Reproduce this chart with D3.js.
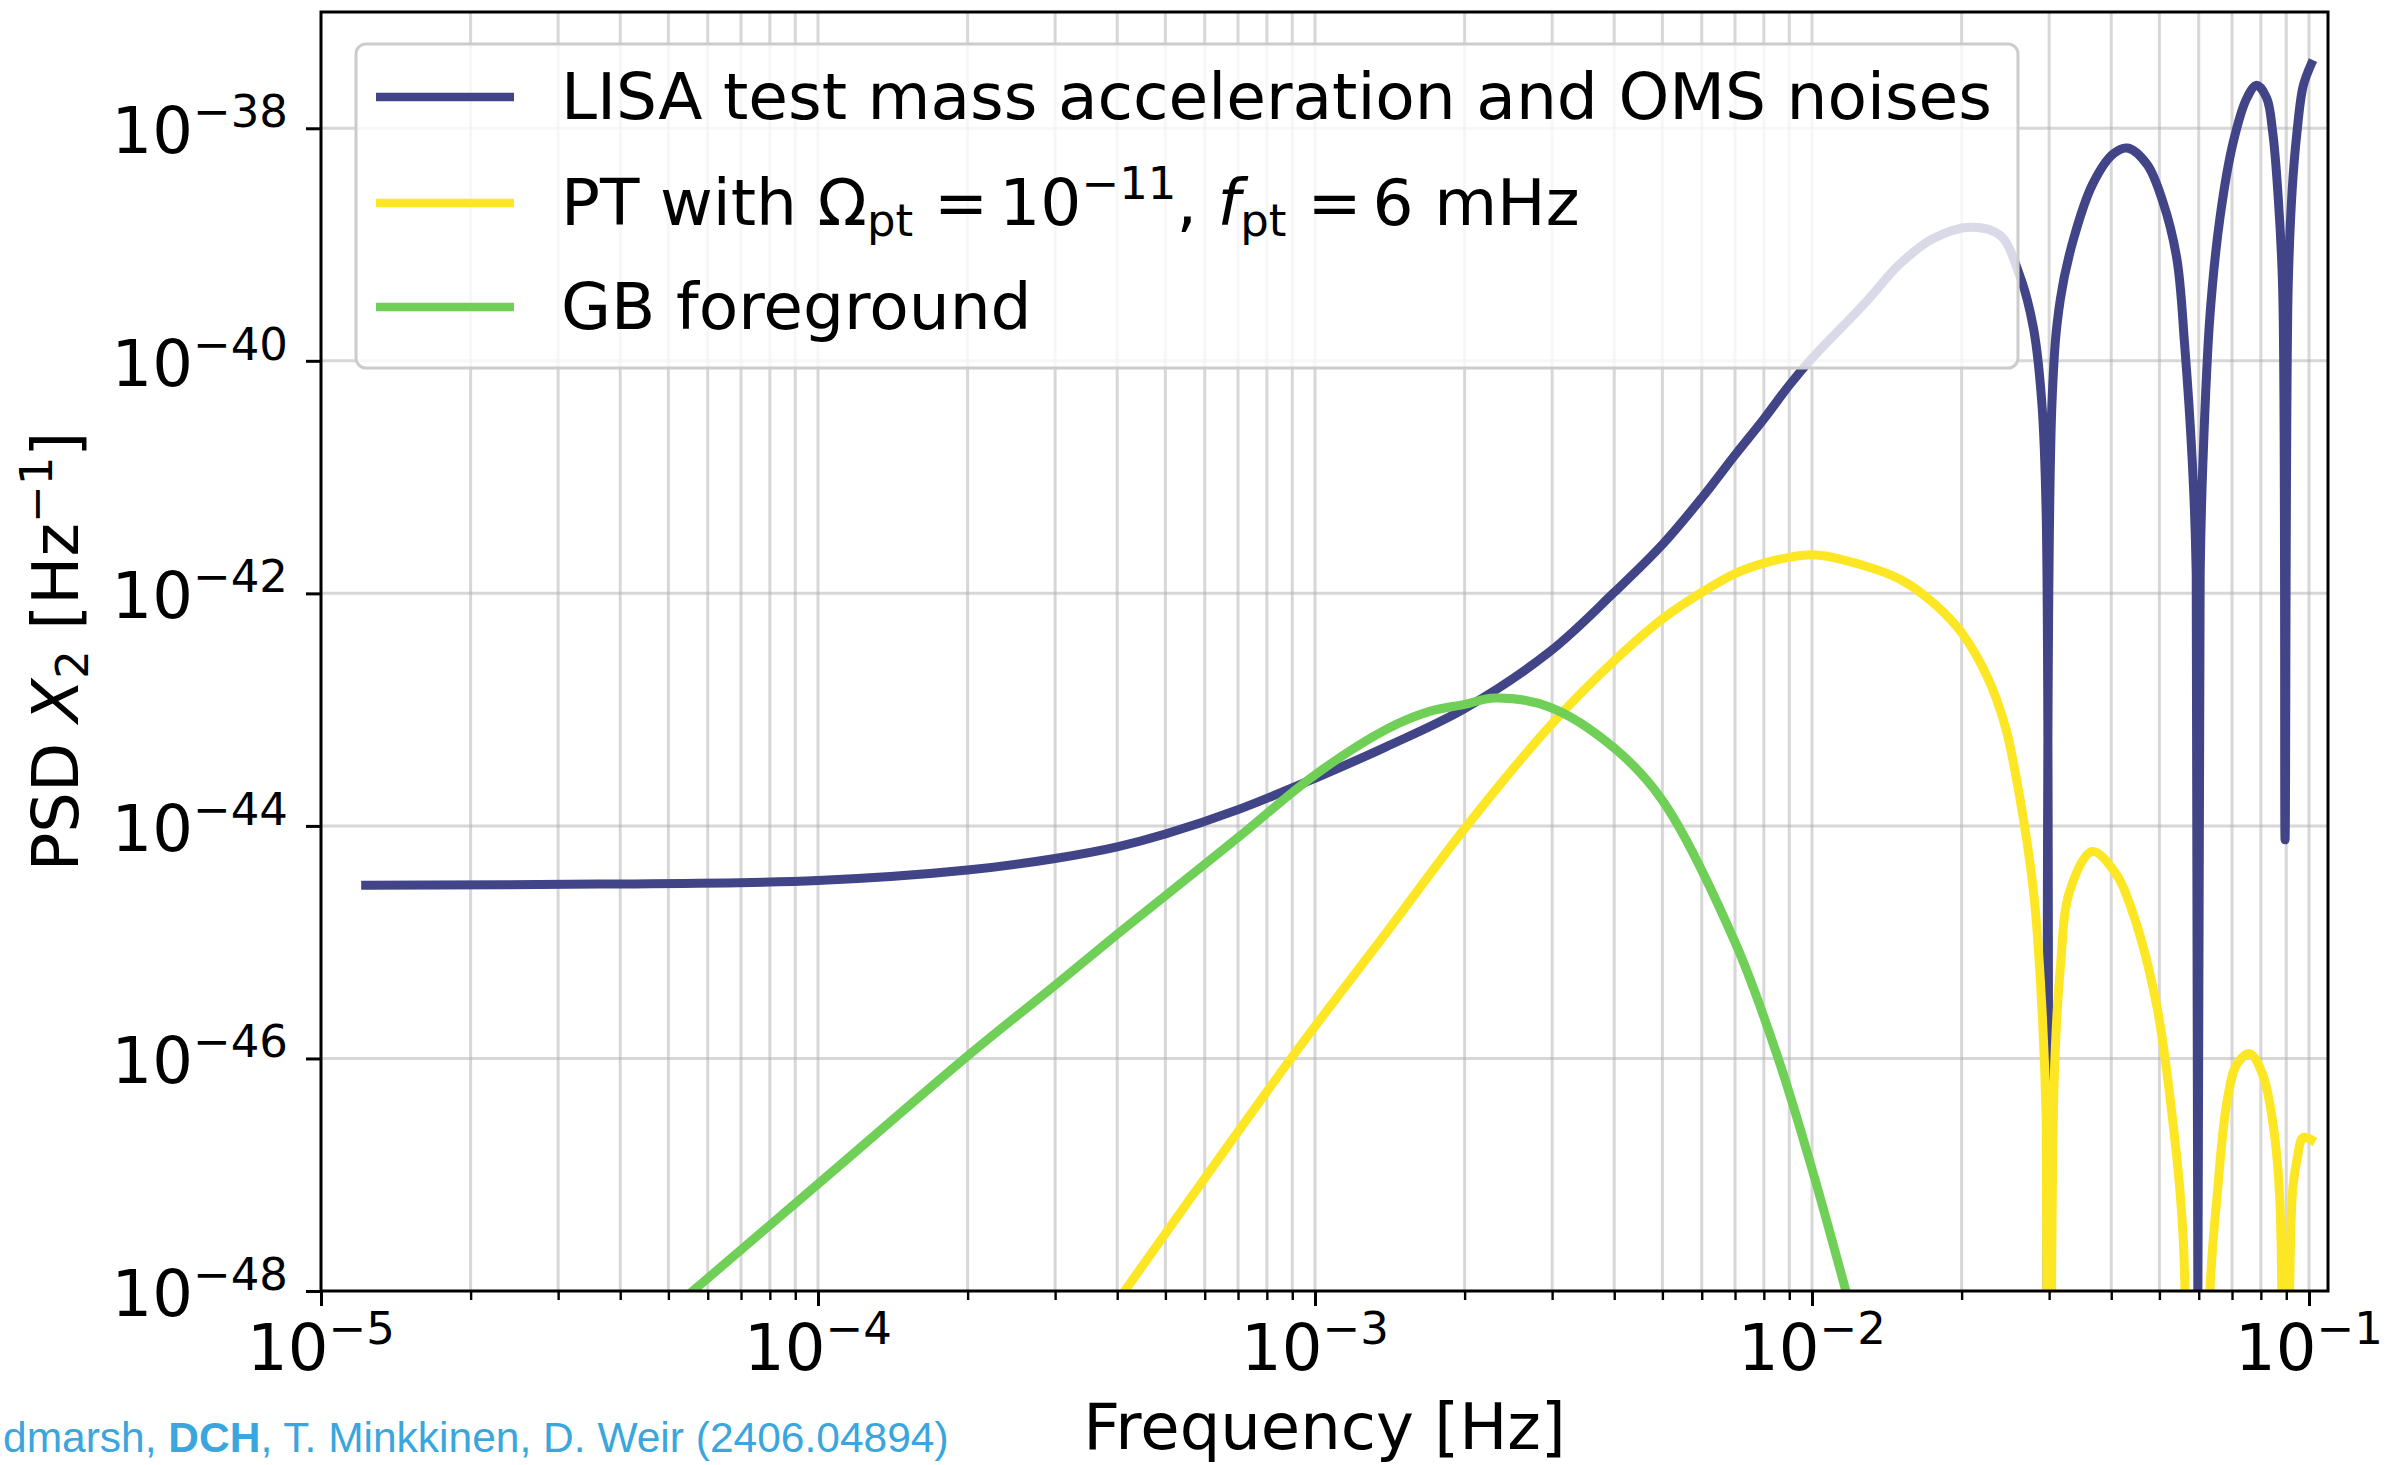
<!DOCTYPE html>
<html>
<head>
<meta charset="utf-8">
<script src="https://cdn.jsdelivr.net/npm/d3@7"></script>
<style>
  html, body { margin: 0; padding: 0; background: #fff; }
  svg { display: block; }
</style>
</head>
<body>
<svg id="chart" width="2405" height="1465"></svg>
<script>
// [frequency Hz, PSD Hz^-1]
var lisaNoise = [
  [1.23e-5, 3.09e-45], [3.63e-5, 3.16e-45], [1.0e-4, 3.39e-45], [2.0e-4, 4.17e-45],
  [3.0e-4, 5.25e-45], [4.0e-4, 6.61e-45], [5.0e-4, 8.51e-45], [7.0e-4, 1.38e-44],
  [1.0e-3, 2.57e-44], [1.39e-3, 4.79e-44], [2.0e-3, 1.02e-43], [2.97e-3, 3.16e-43],
  [4.0e-3, 1.02e-42], [5.0e-3, 2.63e-42], [6.0e-3, 6.61e-42], [7.0e-3, 1.55e-41],
  [8.0e-3, 3.16e-41], [9.0e-3, 6.17e-41], [1.0e-2, 1.05e-40], [1.28e-2, 3.16e-40],
  [1.50e-2, 6.76e-40], [1.75e-2, 1.12e-39], [2.08e-2, 1.41e-39], [2.39e-2, 1.20e-39],
  [2.62e-2, 5.37e-40], [2.79e-2, 1.91e-40], [2.90e-2, 4.37e-41], [2.96e-2, 4.57e-42],
  [2.99e-2, 1e-55], [3.04e-2, 4.37e-41], [3.16e-2, 3.39e-40], [3.35e-2, 1.07e-39],
  [3.67e-2, 3.31e-39], [4.04e-2, 6.03e-39], [4.31e-2, 6.76e-39], [4.72e-2, 4.90e-39],
  [5.08e-2, 2.34e-39], [5.42e-2, 7.59e-40], [5.62e-2, 1.38e-40], [5.82e-2, 1.41e-41],
  [5.93e-2, 1.48e-42], [5.95e-2, 1e-55], [6.04e-2, 1.48e-42], [6.12e-2, 1.41e-41],
  [6.32e-2, 2.45e-40], [6.62e-2, 1.70e-39], [7.03e-2, 7.41e-39], [7.50e-2, 1.82e-38],
  [7.85e-2, 2.34e-38], [8.22e-2, 1.82e-38], [8.45e-2, 9.33e-39], [8.65e-2, 2.95e-39],
  [8.85e-2, 4.27e-40], [8.95e-2, 7.59e-45], [9.08e-2, 4.27e-40], [9.25e-2, 2.95e-39],
  [9.46e-2, 9.33e-39], [9.73e-2, 2.29e-38], [1.01e-1, 3.55e-38]
];

var ptSignal = [
  [4.14e-4, 1e-48], [8.95e-4, 1e-46], [1.39e-3, 1.20e-45], [2.02e-3, 1e-44],
  [2.97e-3, 7.24e-44], [4.0e-3, 2.63e-43], [5.0e-3, 6.03e-43], [6.0e-3, 1.02e-42],
  [7.0e-3, 1.48e-42], [8.0e-3, 1.82e-42], [9.0e-3, 2.04e-42], [1.02e-2, 2.14e-42],
  [1.28e-2, 1.72e-42], [1.51e-2, 1.31e-42], [1.77e-2, 8.02e-43], [2.00e-2, 4.60e-43],
  [2.26e-2, 1.86e-43], [2.45e-2, 7.08e-44], [2.60e-2, 2.09e-44], [2.79e-2, 2.75e-45],
  [2.90e-2, 2.82e-46], [2.96e-2, 2.88e-47], [2.99e-2, 1e-55], [3.07e-2, 6.17e-47],
  [3.16e-2, 6.03e-46], [3.30e-2, 2.75e-45], [3.66e-2, 6.03e-45], [4.07e-2, 3.98e-45],
  [4.43e-2, 1.74e-45], [4.94e-2, 2.82e-46], [5.32e-2, 2.88e-47], [5.58e-2, 2.95e-48],
  [5.95e-2, 1e-55], [6.32e-2, 1e-48], [6.53e-2, 6.46e-48], [6.84e-2, 4.27e-47],
  [7.16e-2, 8.91e-47], [7.60e-2, 1.10e-46], [8.07e-2, 7.24e-47], [8.45e-2, 2.88e-47],
  [8.73e-2, 6.46e-48], [8.95e-2, 1e-55], [9.25e-2, 6.46e-48], [9.46e-2, 1.35e-47],
  [9.73e-2, 2.09e-47], [1.01e-1, 2.00e-47]
];

var gbForeground = [
  [5.60e-5, 1e-48], [1.0e-4, 8.32e-48], [2.0e-4, 1.05e-46], [3.0e-4, 4.27e-46],
  [4.0e-4, 1.17e-45], [5.0e-4, 2.51e-45], [7.0e-4, 7.94e-45], [1.0e-3, 2.75e-44],
  [1.39e-3, 6.76e-44], [1.70e-3, 9.66e-44], [2.0e-3, 1.11e-43], [2.30e-3, 1.26e-43],
  [2.97e-3, 1.05e-43], [4.0e-3, 4.68e-44], [5.0e-3, 1.66e-44], [7.0e-3, 1.0e-45],
  [8.55e-3, 1.0e-46], [1.0e-2, 1.12e-47], [1.17e-2, 1e-48]
];

var xTicks = [1e-5, 1e-4, 1e-3, 1e-2, 1e-1];
var xTickExp = ["\u22125", "\u22124", "\u22123", "\u22122", "\u22121"];
var yTicks = [1e-38, 1e-40, 1e-42, 1e-44, 1e-46, 1e-48];
var yTickExp = ["\u221238", "\u221240", "\u221242", "\u221244", "\u221246", "\u221248"];

var seriesNames = ["LISA test mass acceleration and OMS noises", "PT", "GB foreground"];
var seriesColors = ["#414487", "#fde725", "#70cf57"];

var svg = d3.select("#chart");
var margin = {top: 12, right: 77, bottom: 174, left: 321},
  width = +svg.attr("width") - margin.left - margin.right,
  height = +svg.attr("height") - margin.top - margin.bottom;

var font = "DejaVu Sans";

var x = d3.scaleLog().domain([1e-5, 0.1092]).range([0, width]);
var y = d3.scaleLog().domain([1e-48, 1e-37]).range([height, 0]);

// minor ticks 2..9 x each decade
var xMinor = [];
xTicks.forEach(function (t) {
  for (var k = 2; k <= 9; k++) {
    if (t * k < 0.1092) xMinor.push(t * k);
  }
});

var g = svg.append("g")
  .attr("transform", "translate(" + margin.left + "," + margin.top + ")");

svg.append("defs").append("clipPath").attr("id", "plotclip")
  .append("rect").attr("width", width).attr("height", height);

// grid
var grid = g.append("g").attr("class", "grid")
  .attr("stroke", "#b0b0b0").attr("stroke-opacity", 0.5).attr("stroke-width", 3);
grid.selectAll("line.vx")
  .data(xTicks.concat(xMinor).filter(function (d) { return d > 1e-5; }))
  .enter().append("line")
  .attr("x1", function (d) { return x(d); }).attr("x2", function (d) { return x(d); })
  .attr("y1", 0).attr("y2", height);
grid.selectAll("line.hy")
  .data(yTicks.filter(function (d) { return d > 1e-48; }))
  .enter().append("line")
  .attr("x1", 0).attr("x2", width)
  .attr("y1", function (d) { return y(d); }).attr("y2", function (d) { return y(d); });

// curves
var line = d3.line()
  .x(function (d) { return x(d[0]); })
  .y(function (d) { return y(d[1]); })
  .curve(d3.curveCatmullRom.alpha(0.5));

var curves = g.append("g").attr("clip-path", "url(#plotclip)");
[lisaNoise, ptSignal, gbForeground].forEach(function (data, i) {
  curves.append("path")
    .attr("d", line(data))
    .attr("fill", "none")
    .attr("stroke", seriesColors[i])
    .attr("stroke-width", 9)
    .attr("stroke-linejoin", "round")
    .attr("stroke-linecap", "square");
});

// axes
var xAxis = g.append("g")
  .attr("transform", "translate(0," + height + ")")
  .call(d3.axisBottom(x).tickValues(xTicks).tickFormat("").tickSize(15).tickSizeOuter(0));
var xAxisMinor = g.append("g")
  .attr("transform", "translate(0," + height + ")")
  .call(d3.axisBottom(x).tickValues(xMinor).tickFormat("").tickSize(9).tickSizeOuter(0));
var yAxis = g.append("g")
  .call(d3.axisLeft(y).tickValues(yTicks).tickFormat("").tickSize(15).tickSizeOuter(0));

[xAxis, xAxisMinor, yAxis].forEach(function (a) {
  a.select(".domain").remove();
  a.selectAll(".tick line").attr("stroke", "#000").attr("stroke-width", 3);
});
xAxisMinor.selectAll(".tick line").attr("stroke-width", 2.4);

// spines
g.append("rect")
  .attr("width", width).attr("height", height)
  .attr("fill", "none").attr("stroke", "#000").attr("stroke-width", 3);

// tick labels
xTicks.forEach(function (t, i) {
  var tx = g.append("text")
    .attr("x", x(t)).attr("y", height + 79)
    .attr("text-anchor", "middle")
    .attr("font-family", font).attr("font-size", 64);
  tx.append("tspan").text("10");
  tx.append("tspan").attr("font-size", 45).attr("dy", -26).text(xTickExp[i]);
});
yTicks.forEach(function (t, i) {
  var ty = g.append("text")
    .attr("x", -33).attr("y", y(t) + 25)
    .attr("text-anchor", "end")
    .attr("font-family", font).attr("font-size", 64);
  ty.append("tspan").text("10");
  ty.append("tspan").attr("font-size", 45).attr("dy", -26).text(yTickExp[i]);
});

// axis labels
svg.append("text")
  .attr("x", margin.left + width / 2).attr("y", 1449)
  .attr("text-anchor", "middle")
  .attr("font-family", font).attr("font-size", 64)
  .text("Frequency [Hz]");

var yl = svg.append("text")
  .attr("transform", "translate(78," + (margin.top + height / 2) + ") rotate(-90)")
  .attr("text-anchor", "middle")
  .attr("font-family", font).attr("font-size", 64);
yl.append("tspan").text("PSD ");
yl.append("tspan").attr("font-style", "italic").text("X");
yl.append("tspan").attr("font-size", 45).attr("dy", 10).text("2");
yl.append("tspan").attr("dy", -10).text(" [Hz");
yl.append("tspan").attr("font-size", 45).attr("dy", -26).text("\u22121");
yl.append("tspan").attr("dy", 26).text("]");

// legend
var legend = g.append("g").attr("transform", "translate(35,32)");
legend.append("rect")
  .attr("width", 1662).attr("height", 324).attr("rx", 10)
  .attr("fill", "#fff").attr("fill-opacity", 0.8)
  .attr("stroke", "#cccccc").attr("stroke-width", 3);

var rowY = [53, 159, 263];
seriesColors.forEach(function (c, i) {
  legend.append("line")
    .attr("x1", 20).attr("x2", 158)
    .attr("y1", rowY[i]).attr("y2", rowY[i])
    .attr("stroke", c).attr("stroke-width", 8.5);
});

function legendText(i) {
  return legend.append("text")
    .attr("x", 205).attr("y", rowY[i] + 22)
    .attr("font-family", font).attr("font-size", 64.6);
}
legendText(0).text(seriesNames[0]);
var lt = legendText(1);
lt.append("tspan").text("PT with \u03A9");
lt.append("tspan").attr("font-size", 45).attr("dy", 11).text("pt");
lt.append("tspan").attr("dy", -11).attr("dx", 21).text("=");
lt.append("tspan").attr("dx", 11).text("10");
lt.append("tspan").attr("font-size", 45).attr("dy", -26).text("\u221211");
lt.append("tspan").attr("dy", 26).text(", ");
lt.append("tspan").attr("font-style", "italic").text("f");
lt.append("tspan").attr("font-size", 45).attr("dy", 11).text("pt");
lt.append("tspan").attr("dy", -11).attr("dx", 21).text("=");
lt.append("tspan").attr("dx", 11).text("6 mHz");
legendText(2).text(seriesNames[2]);

// credit line
var credit = svg.append("text")
  .attr("x", 3).attr("y", 1452)
  .attr("font-family", "Liberation Sans").attr("font-size", 42.5)
  .attr("fill", "#3aa6dd");
credit.append("tspan").text("dmarsh, ");
credit.append("tspan").attr("font-weight", "bold").text("DCH");
credit.append("tspan").text(", T. Minkkinen, D. Weir (2406.04894)");
</script>
</body>
</html>
